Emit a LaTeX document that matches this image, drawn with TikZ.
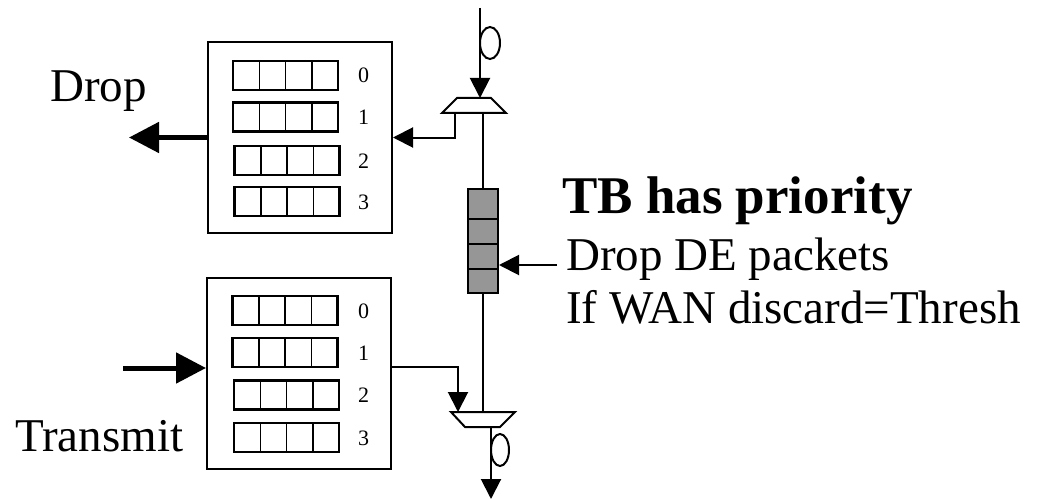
\documentclass[tikz,border=0pt]{standalone}
\usepackage{fontspec}
\setmainfont{Liberation Serif}
\usetikzlibrary{arrows.meta,positioning}
\definecolor{bufgray}{RGB}{150,150,150}
\tikzset{
  thin/.style={line width=2pt},
  cell/.style={draw,line width=2.2pt,minimum width=105pt,minimum height=29pt,inner sep=0pt},
  qbox/.style={draw,line width=2pt,minimum width=184pt,minimum height=191pt,inner sep=0pt},
  num/.style={font=\fontsize{22}{26}\selectfont,anchor=base west,inner sep=0pt},
  big/.style={font=\fontsize{47}{56}\selectfont,anchor=base west,inner sep=0pt},
  small tip/.style={-{Triangle[length=20pt,width=20pt]}},
  fat tip/.style={line width=5pt,-{Triangle[length=30pt,width=30pt]}},
}
% one queue row of four cells: name, x centre, y centre
\newcommand{\qrow}[3]{%
  \node[cell] (#1) at (#2,#3) {};
  \foreach \k in {1,2,3}
    \draw[line width=1.5pt] (#2-52.5+\k*26.25,#3-14.5) -- ++(0,29);
}
\begin{document}
\begin{tikzpicture}[x=1pt,y=-1pt]
\useasboundingbox (0,0) rectangle (1038,500);

% drop side
\node[qbox] (dropbox) at (300,137.5) {};
\qrow{d0}{285.5}{75.5}
\qrow{d1}{285.5}{117}
\qrow{d2}{287}{160.5}
\qrow{d3}{287}{201.5}
\node[num] (dn0) at (358,83) {0};
\node[num] (dn1) at (358,124.5) {1};
\node[num] (dn2) at (358,168) {2};
\node[num] (dn3) at (358,209) {3};

% transmit side
\node[qbox] (txbox) at (299,373) {};
\qrow{t0}{285}{310.5}
\qrow{t1}{285}{352.5}
\qrow{t2}{286.5}{395}
\qrow{t3}{286.5}{437.5}
\node[num] (tn0) at (358,318) {0};
\node[num] (tn1) at (358,360) {1};
\node[num] (tn2) at (358,402.5) {2};
\node[num] (tn3) at (358,445) {3};

% multiplexers
\draw[thin] (457,98) -- (491,98) -- (506,113) -- (442,113) -- cycle;
\draw[thin] (451,412) -- (515,412) -- (500,427) -- (465,427) -- cycle;
\coordinate (upin) at (480,98);
\coordinate (upout) at (483,113);
\coordinate (updrop) at (455,113);
\coordinate (lowin) at (483,412);
\coordinate (lowtx) at (458,412);
\coordinate (lowout) at (491,427);
\coordinate (src) at (480,8);
\coordinate (sink) at (491,499);

% shaded buffer
\node[draw,thin,fill=bufgray,minimum width=30pt,minimum height=104pt,inner sep=0pt] (buf) at (483,241) {};
\foreach \y in {219,244,269}
  \draw[thin] (468,\y) -- (498,\y);

% main line
\draw[thin,small tip] (src) -- (upin);
\draw[thin] (490,43) ellipse [x radius=10,y radius=16];
\draw[thin] (upout) -- (buf.north);
\draw[thin] (buf.south) -- (lowin);
\draw[thin,small tip] (lowout) -- (sink);
\draw[thin] (500,450) ellipse [x radius=9,y radius=16];

% branches
\draw[thin,small tip] (updrop) |- (dropbox.east);
\coordinate (txout) at (391,367);
\draw[thin,small tip] (txout) -| (lowtx);

% labels and thick arrows
\node[big] (droplbl) at (50,102) {Drop};
\draw[fat tip] (dropbox.west) -- ++(-78,0);
\node[big] (txlbl) at (15,451) {Transmit};
\coordinate (txin) at (123,368);
\draw[fat tip] (txin) -- (txbox.west |- txin);

\node[big,font=\fontsize{53}{60}\selectfont\bfseries] (tb) at (562,213) {TB has priority};
\node[big] (dde) at (566,270) {Drop DE packets};
\node[big] (wan) at (566,323) {If WAN discard=Thresh};
\coordinate (ddein) at (557,265);
\draw[thin,small tip] (ddein) -- (buf.east |- ddein);
\end{tikzpicture}
\end{document}
